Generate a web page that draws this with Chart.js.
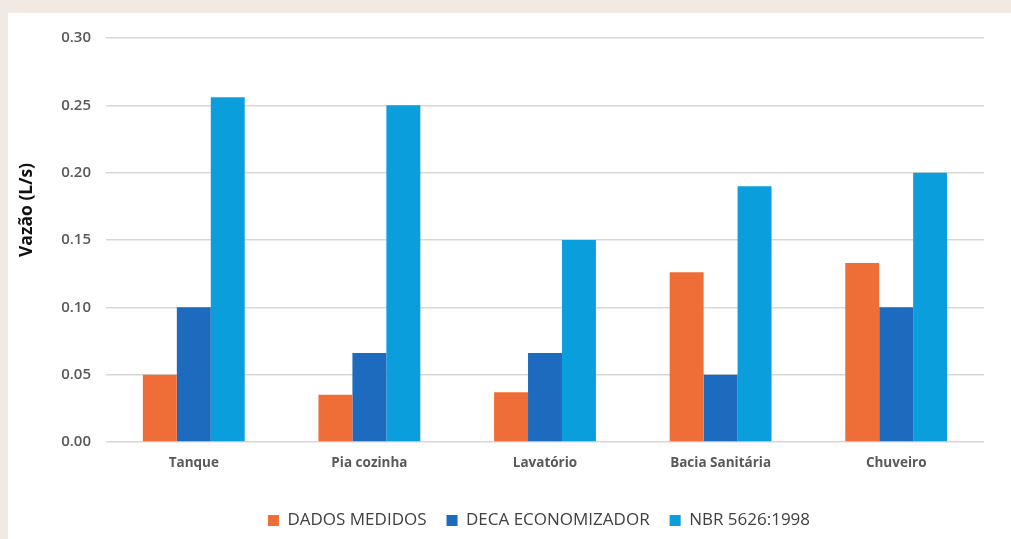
<!DOCTYPE html>
<html>
<head>
<meta charset="utf-8" />
<title>Vazão por aparelho</title>
<script src="https://cdn.jsdelivr.net/npm/chart.js@4.4.1/dist/chart.umd.min.js"></script>
<style>
  html, body { margin: 0; padding: 0; background: #f3e9e3; }
  #wrap { width: 1011px; height: 539px; }
</style>
</head>
<body>
<div id="wrap"><canvas id="myChart" width="1011" height="539"></canvas></div>
<script>
// categories and series
var categories = ["Tanque", "Pia cozinha", "Lavatório", "Bacia Sanitária", "Chuveiro"];
var dadosMedidos = [0.050, 0.035, 0.037, 0.126, 0.133];
var decaEconomizador = [0.100, 0.066, 0.066, 0.050, 0.100];
var nbr5626 = [0.256, 0.250, 0.150, 0.190, 0.200];
var yTicks = [0.00, 0.05, 0.10, 0.15, 0.20, 0.25, 0.30];
var yTitle = 'Vazão (L/s)';

var FONT = "'Open Sans', sans-serif";

// beige page with white panel behind the chart
var panelBg = {
    id: 'panelBg',
    beforeDraw: function(chart) {
        var ctx = chart.ctx;
        ctx.save();
        ctx.fillStyle = '#f3e9e3';
        ctx.fillRect(0, 0, chart.width, chart.height);
        ctx.fillStyle = '#ffffff';
        ctx.fillRect(8, 13, chart.width - 8, chart.height - 13);
        ctx.restore();
    }
};

// y title sits a bit above the middle of the plot in the original
var yTitlePlugin = {
    id: 'yTitlePlugin',
    afterDraw: function(chart) {
        var ctx = chart.ctx;
        var area = chart.chartArea;
        ctx.save();
        ctx.translate(27, (area.top + area.bottom) / 2 - 30);
        ctx.rotate(-Math.PI / 2);
        ctx.font = "bold 17.5px " + FONT;
        ctx.fillStyle = '#111111';
        ctx.textAlign = 'center';
        ctx.textBaseline = 'middle';
        ctx.fillText(yTitle, 0, 0);
        ctx.restore();
    }
};

// legend in the original is centred under the plot area, not the whole canvas
var legendShift = {
    id: 'legendShift',
    afterLayout: function(chart) {
        if (chart.legend) chart.legend.left = 94;
    }
};

var ctx = document.getElementById('myChart').getContext('2d');
var chart = new Chart(ctx, {
    type: 'bar',
    data: {
        labels: categories,
        datasets: [
            { label: 'DADOS MEDIDOS', data: dadosMedidos, backgroundColor: '#ef6d37' },
            { label: 'DECA ECONOMIZADOR', data: decaEconomizador, backgroundColor: '#1c6bbf' },
            { label: 'NBR 5626:1998', data: nbr5626, backgroundColor: '#0a9fdc' }
        ]
    },
    plugins: [panelBg, yTitlePlugin, legendShift],
    options: {
        responsive: false,
        animation: false,
        layout: { padding: { top: 38, right: 27, bottom: 0, left: 0 } },
        datasets: { bar: { categoryPercentage: 0.58, barPercentage: 1.0 } },
        plugins: {
            legend: {
                position: 'bottom',
                labels: {
                    boxWidth: 11, boxHeight: 11, padding: 20,
                    color: '#404040',
                    font: { family: FONT, size: 17 }
                }
            },
            tooltip: { enabled: false }
        },
        scales: {
            x: {
                grid: { display: false, drawTicks: false },
                border: { display: false },
                ticks: { color: '#595959', padding: 13, font: { family: FONT, size: 13.5, weight: 'bold' } },
                afterFit: function(scale) { scale.height = 50; }
            },
            y: {
                min: 0, max: 0.30,
                afterBuildTicks: function(scale) {
                    scale.ticks = yTicks.map(function(v) { return { value: v }; });
                },
                grid: { color: '#dcd6d3', lineWidth: 1.5, drawTicks: false },
                border: { display: false },
                ticks: {
                    color: '#595959', padding: 15,
                    font: { family: FONT, size: 15, weight: '600' },
                    callback: function(v) { return v.toFixed(2); }
                },
                afterFit: function(scale) { scale.width = 106; }
            }
        }
    }
});
</script>
</body>
</html>
